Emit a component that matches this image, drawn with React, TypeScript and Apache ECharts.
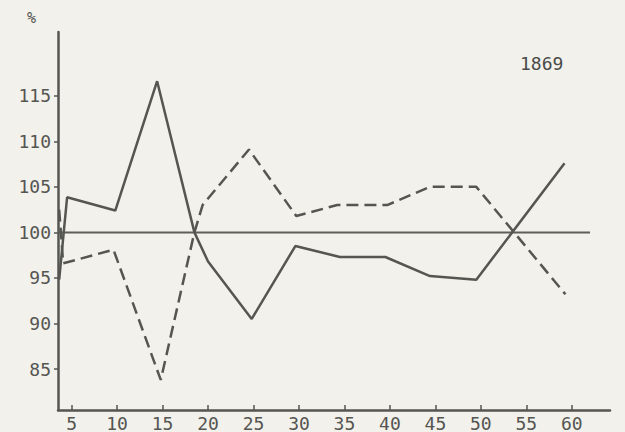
import React, { useEffect, useRef } from "react";
import * as echarts from "echarts";

const xTicks = [5, 10, 15, 20, 25, 30, 35, 40, 45, 50, 55, 60];
const yTicks = [85, 90, 95, 100, 105, 110, 115];

const solidX = [3.63, 4.5, 9.8, 14.4, 18.5, 20, 24.8, 29.6, 34.5, 39.5, 44.4, 49.5, 59.2];
const solidY = [94.8, 103.85, 102.4, 116.6, 100, 96.8, 90.5, 98.5, 97.3, 97.3, 95.2, 94.8, 107.6];

const dashedX = [3.63, 4.07, 9.6, 14.8, 18.5, 19.4, 24.5, 29.7, 34.2, 39.7, 44.4, 49.5, 59.3];
const dashedY = [102.5, 96.6, 98.1, 83.8, 100, 103, 109.1, 101.8, 103, 103, 105, 105, 93.2];

const baseX = [3.5, 62];
const baseY = [100, 100];

const yearLabel = "1869";
const unitLabel = "%";

const ink = "#555552";
const font = "DejaVu Sans Mono";

function pairs(xs: number[], ys: number[]) {
  return xs.map((x, i) => [x, ys[i]]);
}

export default function App() {
  const ref = useRef<HTMLDivElement>(null);
  useEffect(() => {
    const chart = echarts.init(ref.current!, null, { renderer: "svg" });
    chart.setOption({
      animation: false,
      backgroundColor: "#f2f1eb",
      grid: { left: 58, right: 15, top: 32, bottom: 22, containLabel: false },
      xAxis: {
        type: "value",
        min: 3.5,
        max: 64.2,
        axisLine: { show: true, onZero: false, lineStyle: { color: ink, width: 2.5 } },
        axisTick: { show: true, inside: true, length: 5, customValues: xTicks, lineStyle: { color: ink, width: 1.5 } },
        axisLabel: { customValues: xTicks, margin: 4, color: ink, fontFamily: font, fontSize: 18 },
        splitLine: { show: false },
      },
      yAxis: {
        type: "value",
        min: 80.5,
        max: 122,
        axisLine: { show: true, onZero: false, lineStyle: { color: ink, width: 2.5 } },
        axisTick: { show: true, inside: false, length: 4, customValues: yTicks, lineStyle: { color: ink, width: 1.5 } },
        axisLabel: { customValues: yTicks, margin: 7, color: ink, fontFamily: font, fontSize: 18 },
        splitLine: { show: false },
      },
      graphic: [
        { type: "text", left: 27, top: 10, style: { text: unitLabel, fill: ink, font: `15px ${font}` } },
        { type: "text", left: 520, top: 54, style: { text: yearLabel, fill: "#4a4a48", font: `18px ${font}` } },
      ],
      series: [
        {
          type: "line",
          data: pairs(baseX, baseY),
          symbol: "none",
          lineStyle: { color: "#5e5e5b", width: 2 },
          silent: true,
        },
        {
          type: "line",
          data: pairs(solidX, solidY),
          symbol: "none",
          lineStyle: { color: ink, width: 2.5 },
          silent: true,
        },
        {
          type: "line",
          data: pairs(dashedX, dashedY),
          symbol: "none",
          lineStyle: { color: ink, width: 2.5, type: [12, 6] },
          silent: true,
        },
      ],
    });
    return () => chart.dispose();
  }, []);
  return <div ref={ref} style={{ position: "absolute", left: 0, top: 0, width: 625, height: 432 }} />;
}
